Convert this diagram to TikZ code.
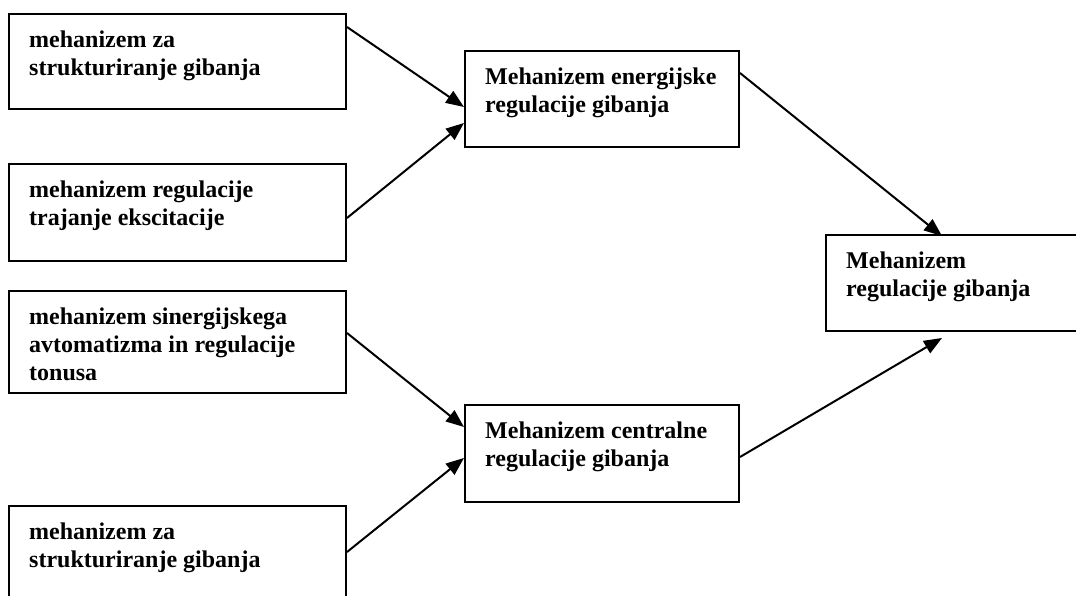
\documentclass[tikz,border=0pt]{standalone}
\usepackage{fontspec}
\setmainfont{Liberation Serif}
\usetikzlibrary{arrows.meta}
\begin{document}
\begin{tikzpicture}[x=1pt,y=-1pt,
  boxed/.style={draw,line width=2pt,rectangle,anchor=north west,inner sep=0pt},
  label/.style={anchor=north west,inner sep=0pt,align=left,font=\bfseries\fontsize{24}{28}\selectfont},
  arr/.style={line width=2pt,-{Triangle[length=18pt,width=14pt]}}]
\useasboundingbox[fill=white] (0,0) rectangle (1076,596);
\node[boxed,minimum width=337pt,minimum height=95pt] (b1) at (8,13) {};
\node[boxed,minimum width=337pt,minimum height=97pt] (b2) at (8,163) {};
\node[boxed,minimum width=337pt,minimum height=102pt] (b3) at (8,290) {};
\node[boxed,minimum width=337pt,minimum height=100pt] (b4) at (8,505) {};
\node[boxed,minimum width=274pt,minimum height=96pt] (m1) at (464,50) {};
\node[boxed,minimum width=274pt,minimum height=97pt] (m2) at (464,404) {};
\node[boxed,minimum width=262pt,minimum height=96pt] (r) at (825,234) {};
\node[label] (b1t) at (29,13) {\rule{0pt}{34pt}mehanizem za\\strukturiranje gibanja};
\node[label] (b2t) at (29,163) {\rule{0pt}{34pt}mehanizem regulacije\\trajanje ekscitacije};
\node[label] (b3t) at (29,290) {\rule{0pt}{34pt}mehanizem sinergijskega\\avtomatizma in regulacije\\tonusa};
\node[label] (b4t) at (29,505) {\rule{0pt}{34pt}mehanizem za\\strukturiranje gibanja};
\node[label] (m1t) at (485,50) {\rule{0pt}{34pt}Mehanizem energijske\\regulacije gibanja};
\node[label] (m2t) at (485,404) {\rule{0pt}{34pt}Mehanizem centralne\\regulacije gibanja};
\node[label] (rt) at (846,234) {\rule{0pt}{34pt}Mehanizem\\regulacije gibanja};
\draw[arr] ([yshift=-14pt]b1.north east) -- ([yshift=-57pt]m1.north west);
\draw[arr] ([yshift=-55pt]b2.north east) -- ([yshift=-73pt]m1.north west);
\draw[arr] ([yshift=-43pt]b3.north east) -- ([yshift=-23pt]m2.north west);
\draw[arr] ([yshift=-47pt]b4.north east) -- ([yshift=-54pt]m2.north west);
\draw[arr] ([yshift=-23pt]m1.north east) -- ([xshift=117pt,yshift=-2pt]r.north west);
\draw[arr] ([yshift=-53pt]m2.north east) -- ([xshift=117pt,yshift=-6pt]r.south west);
\end{tikzpicture}
\end{document}
